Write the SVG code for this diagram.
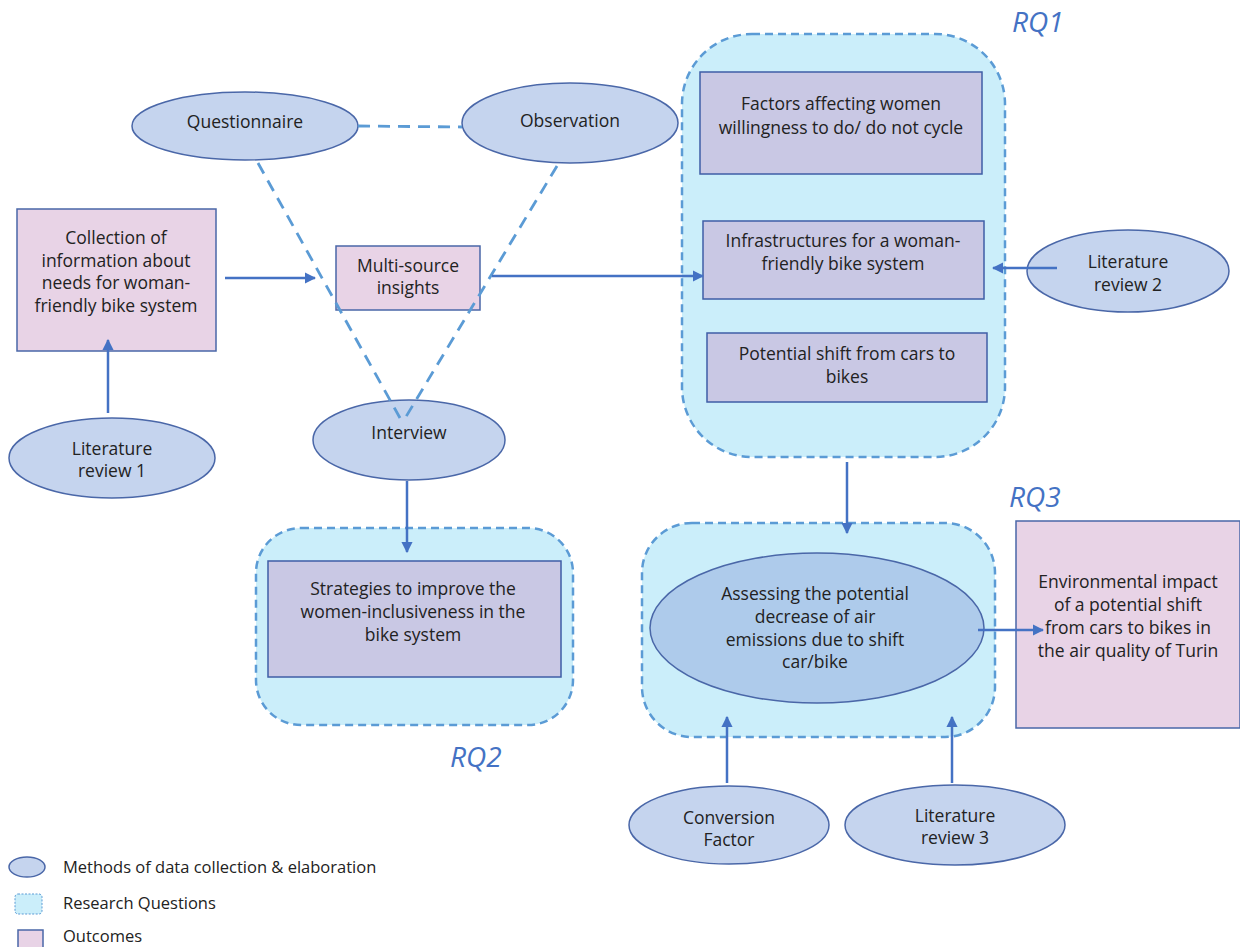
<svg xmlns="http://www.w3.org/2000/svg" width="1240" height="947" viewBox="0 0 1240 947">
<defs>
<marker id="ah" viewBox="0 0 10 10" refX="9" refY="5" markerWidth="4.5" markerHeight="4.5" orient="auto-start-reverse" markerUnits="strokeWidth">
<path d="M0,0 L10,5 L0,10 z" fill="#4472c4"/>
</marker>
<style>
text{font-family:"Open Sans","Noto Sans",sans-serif;font-size:17.5px;fill:#222;text-anchor:middle}
.m{fill:#c5d4ee;stroke:#4a67a8;stroke-width:1.5}
.p{fill:#c9c8e4;stroke:#3f5ea6;stroke-width:1.5}
.o{fill:#e8d3e6;stroke:#4a67a8;stroke-width:1.5}
.rq{fill:#cbeefa;stroke:#5b9bd5;stroke-width:2.5;stroke-dasharray:8 5}
.a{stroke:#4472c4;stroke-width:2.5;fill:none;marker-end:url(#ah)}
.d{stroke:#5b9bd5;stroke-width:2.8;fill:none;stroke-dasharray:12 8}
.lab{font-size:28px;font-style:italic;fill:#4472c4;text-anchor:start}
.leg{text-anchor:start;font-size:16.5px}
</style>
</defs>
<rect width="1240" height="947" fill="#fff"/>

<g id="rq1"><rect class="rq" x="682" y="34" width="323" height="423" rx="70"/><text class="lab" x="1012" y="32">RQ1</text></g>
<g id="rq2"><rect class="rq" x="256" y="528" width="317" height="197" rx="45"/><text class="lab" x="450" y="767">RQ2</text></g>
<g id="rq3"><rect class="rq" x="642" y="523" width="353" height="214" rx="50"/><text class="lab" x="1009" y="507">RQ3</text></g>

<g id="questionnaire"><ellipse class="m" cx="245" cy="126" rx="113" ry="34"/><text x="245" y="128">Questionnaire</text></g>
<g id="observation"><ellipse class="m" cx="570" cy="123" rx="108" ry="40"/><text x="570" y="127">Observation</text></g>
<g id="collection"><rect class="o" x="17" y="209" width="199" height="142"/>
<text x="116" y="244">Collection of</text><text x="116" y="267">information about</text><text x="116" y="289">needs for woman-</text><text x="116" y="312">friendly bike system</text></g>
<g id="multisource"><rect class="o" x="336" y="246" width="144" height="64"/>
<text x="408" y="272">Multi-source</text><text x="408" y="294">insights</text></g>
<g id="litreview1"><ellipse class="m" cx="112" cy="458" rx="103" ry="40"/>
<text x="112" y="455">Literature</text><text x="112" y="477">review 1</text></g>
<g id="interview"><ellipse class="m" cx="409" cy="440" rx="96" ry="40"/><text x="409" y="439">Interview</text></g>
<g id="factors"><rect class="p" x="700" y="72" width="282" height="102"/>
<text x="841" y="110">Factors affecting women</text><text x="841" y="134">willingness to do/ do not cycle</text></g>
<g id="infrastructures"><rect class="p" x="703" y="221" width="281" height="78"/>
<text x="843" y="247">Infrastructures for a woman-</text><text x="843" y="270">friendly bike system</text></g>
<g id="potential"><rect class="p" x="707" y="333" width="280" height="69"/>
<text x="847" y="360">Potential shift from cars to</text><text x="847" y="383">bikes</text></g>
<g id="litreview2"><ellipse class="m" cx="1128" cy="271" rx="101" ry="41"/>
<text x="1128" y="268">Literature</text><text x="1128" y="291">review 2</text></g>
<g id="strategies"><rect class="p" x="268" y="561" width="293" height="116"/>
<text x="413" y="595">Strategies to improve the</text><text x="413" y="618">women-inclusiveness in the</text><text x="413" y="641">bike system</text></g>
<g id="assessing"><ellipse cx="817" cy="628" rx="167" ry="75" fill="#aecbeb" stroke="#4a67a8" stroke-width="1.5"/>
<text x="815" y="600">Assessing the potential</text><text x="815" y="623">decrease of air</text><text x="815" y="646">emissions due to shift</text><text x="815" y="668">car/bike</text></g>
<g id="environmental"><rect class="o" x="1016" y="521" width="224" height="207"/>
<text x="1128" y="588">Environmental impact</text><text x="1128" y="611">of a potential shift</text><text x="1128" y="634">from cars to bikes in</text><text x="1128" y="657">the air quality of Turin</text></g>
<g id="conversion"><ellipse class="m" cx="729" cy="825" rx="100" ry="39"/>
<text x="729" y="824">Conversion</text><text x="729" y="846">Factor</text></g>
<g id="litreview3"><ellipse class="m" cx="955" cy="825" rx="110" ry="40"/>
<text x="955" y="822">Literature</text><text x="955" y="844">review 3</text></g>

<g id="connectors">
<line class="d" x1="358" y1="126" x2="462" y2="127"/>
<line class="d" x1="258" y1="163" x2="400" y2="418"/>
<line class="d" x1="557" y1="166" x2="404" y2="420"/>
<line class="a" x1="225" y1="278" x2="315" y2="278"/>
<line class="a" x1="492" y1="276" x2="703" y2="276"/>
<line class="a" x1="108" y1="413" x2="108" y2="340"/>
<line class="a" x1="407" y1="481" x2="407" y2="552"/>
<line class="a" x1="1057" y1="268" x2="993" y2="268"/>
<line class="a" x1="847" y1="462" x2="847" y2="533"/>
<line class="a" x1="978" y1="630" x2="1043" y2="630"/>
<line class="a" x1="727" y1="783" x2="727" y2="717"/>
<line class="a" x1="952" y1="783" x2="952" y2="717"/>
</g>

<g id="legend">
<ellipse class="m" cx="27" cy="867" rx="18" ry="10"/>
<text class="leg" x="63" y="873">Methods of data collection &amp; elaboration</text>
<rect x="15" y="894" width="27" height="20" rx="3" fill="#cbeefa" stroke="#5b9bd5" stroke-width="1" stroke-dasharray="2 1.5"/>
<text class="leg" x="63" y="909">Research Questions</text>
<rect x="18" y="930" width="25" height="20" fill="#e8d3e6" stroke="#4a67a8" stroke-width="1.5"/>
<text class="leg" x="63" y="942">Outcomes</text>
</g>
</svg>
